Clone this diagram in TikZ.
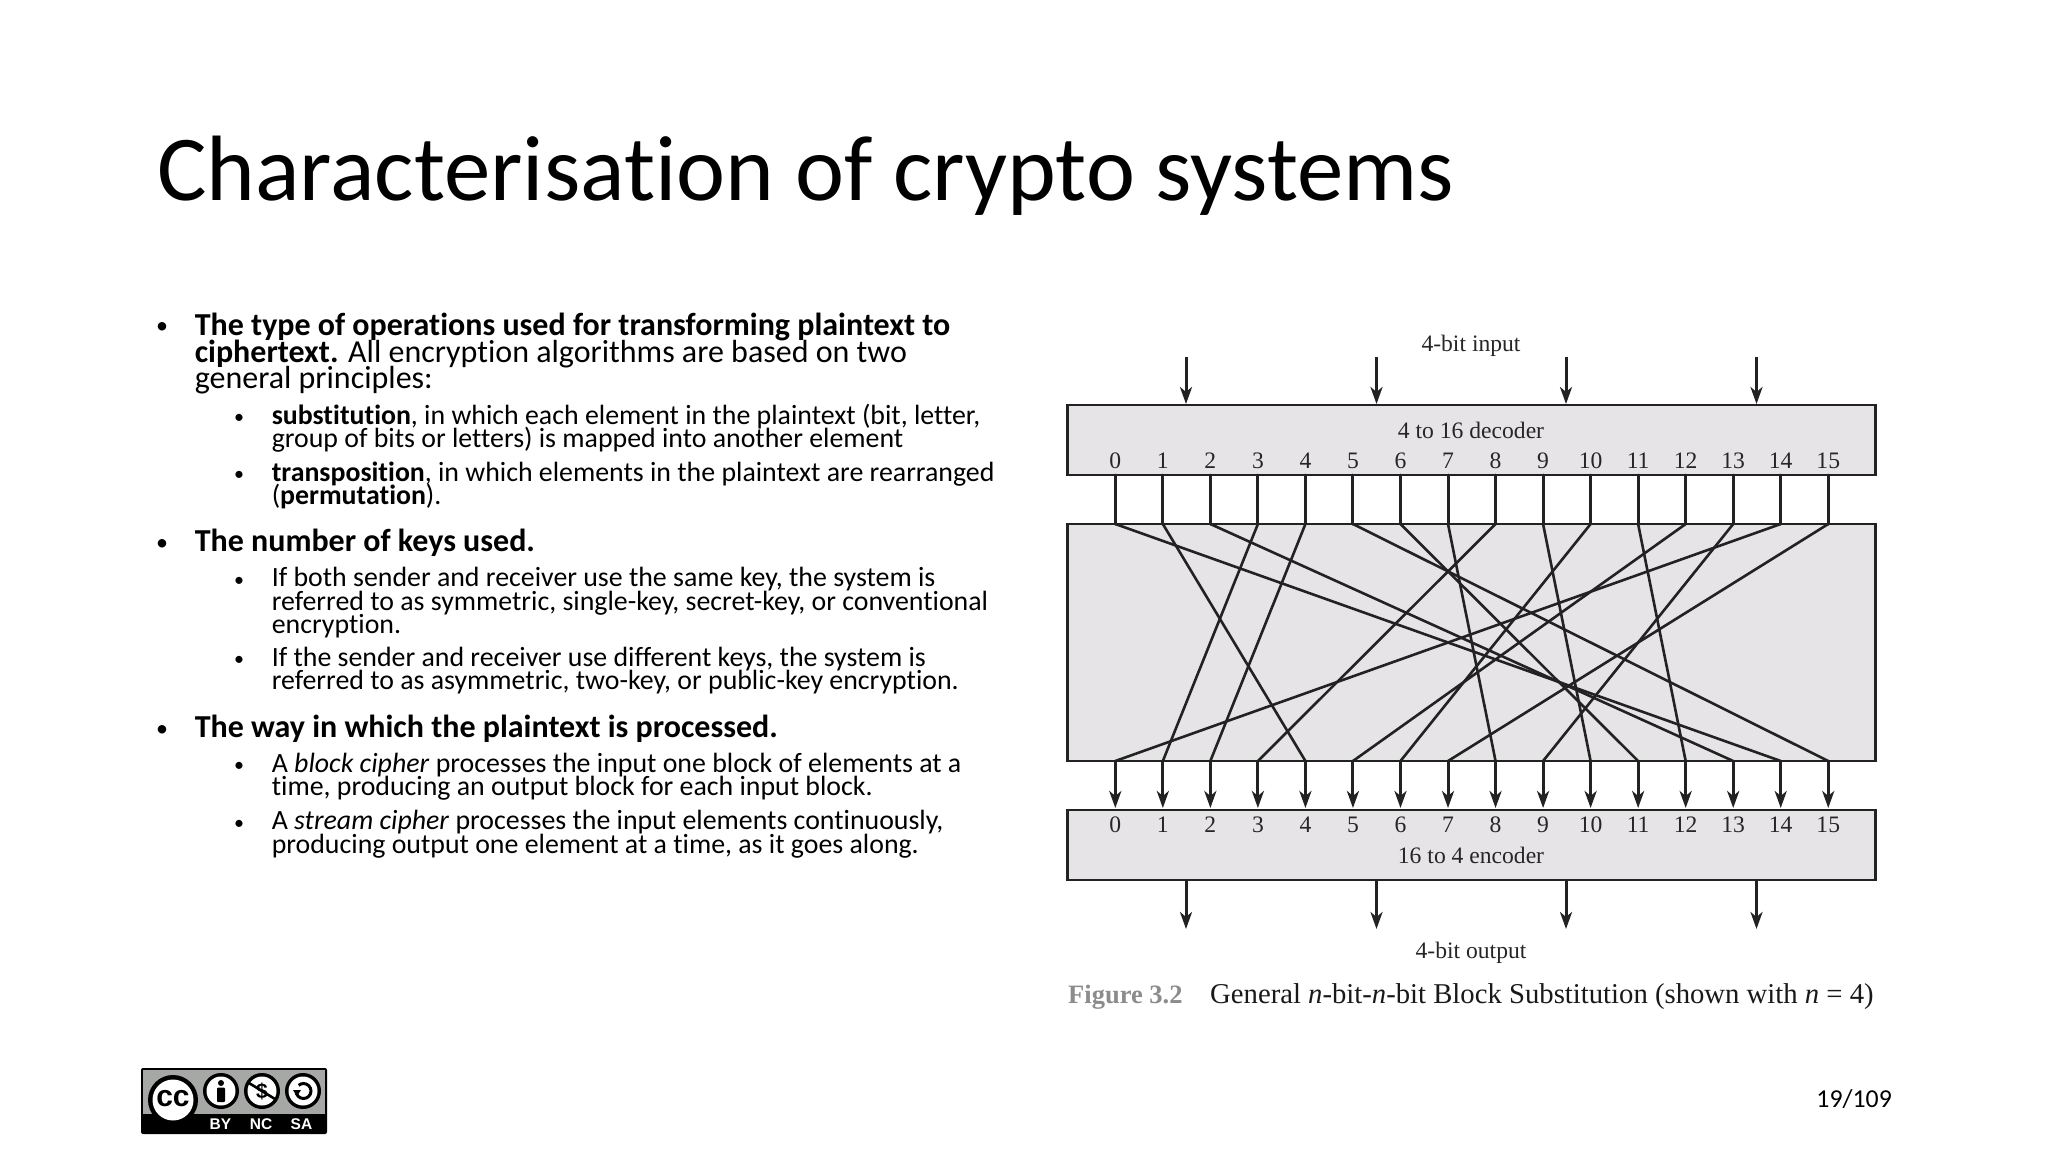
\documentclass[tikz,border=0pt]{standalone}
\usepackage{fontspec}
\setmainfont[RawFeature={-liga;-clig;-dlig}]{Carlito}
\newfontfamily\figfont{Liberation Serif}
\newfontfamily\badgefont{Liberation Sans}
\usetikzlibrary{arrows.meta}
\definecolor{boxgray}{HTML}{E6E4E7}
\definecolor{wiredark}{HTML}{222222}
\definecolor{figgray}{HTML}{8C8C8C}
\definecolor{badgegray}{HTML}{A6A8A5}
\newcommand{\fsize}[1]{\fontsize{#1}{#1}\selectfont}

\begin{document}
\begin{tikzpicture}[x=1pt,y=-1pt,
    every node/.style={inner sep=0pt},
    title/.style={anchor=base west,font=\fsize{92.85}},
    lineone/.style={anchor=base west,font=\fsize{32}},
    linetwo/.style={anchor=base west,font=\fsize{27.85}},
    blockbox/.style={draw=wiredark,line width=2.4pt,fill=boxgray,minimum width=808pt},
    figtext/.style={font=\figfont\fsize{23.6},text=black!85},
    wire/.style={draw=wiredark,line width=2.6pt},
    straightwire/.style={draw=wiredark,line width=3pt},
    arrowwire/.style={straightwire,-{Stealth[length=17pt,width=12pt,inset=5pt]}}]
      \path[use as bounding box,fill=white] (0,0) rectangle (2048,1152);

      \node[title] (head) at (157,200) {Characterisation of crypto systems};

      % left column
      \foreach \name/\y in {ba/333,bb/550,bc/736}
        \node[anchor=base,font=\fsize{24}] (\name) at (162,\y) {•};
      \foreach \name/\y in {sa/423,sb/480,sc/586,sd/665.5,se/771,sf/829}
        \node[anchor=base,font=\fsize{20}] (\name) at (239,\y) {•};
      \node[lineone] (la) at (194.6,335) {\textbf{The type of operations used for transforming plaintext to}};
      \node[lineone] (lb) at (194.6,362) {\textbf{ciphertext.} All encryption algorithms are based on two};
      \node[lineone] (lc) at (194.6,388.5) {general principles:};
      \node[linetwo] (ld) at (271.6,424) {\textbf{substitution}, in which each element in the plaintext (bit, letter,};
      \node[linetwo] (le) at (271.6,447.5) {group of bits or letters) is mapped into another element};
      \node[linetwo] (lf) at (271.6,481) {\textbf{transposition}, in which elements in the plaintext are rearranged};
      \node[linetwo] (lg) at (271.6,504.5) {(\textbf{permutation}).};
      \node[lineone] (lh) at (194.6,551) {\textbf{The number of keys used.}};
      \node[linetwo] (li) at (271.6,586.5) {If both sender and receiver use the same key, the system is};
      \node[linetwo] (lj) at (271.6,610) {referred to as symmetric, single-key, secret-key, or conventional};
      \node[linetwo] (lk) at (271.6,633.5) {encryption.};
      \node[linetwo] (ll) at (271.6,666) {If the sender and receiver use different keys, the system is};
      \node[linetwo] (lm) at (271.6,689.5) {referred to as asymmetric, two-key, or public-key encryption.};
      \node[lineone] (ln) at (194.6,737) {\textbf{The way in which the plaintext is processed.}};
      \node[linetwo] (lo) at (271.6,772) {A \textit{block cipher} processes the input one block of elements at a};
      \node[linetwo] (lp) at (271.6,795.5) {time, producing an output block for each input block.};
      \node[linetwo] (lq) at (271.6,829.5) {A \textit{stream cipher} processes the input elements continuously,};
      \node[linetwo] (lr) at (271.6,853) {producing output one element at a time, as it goes along.};

      % blocks
      \node[blockbox,minimum height=70pt] (decoder) at (1471.5,440) {};
      \node[blockbox,minimum height=237pt] (mixer) at (1471.5,642.5) {};
      \node[blockbox,minimum height=70pt] (encoder) at (1471.5,845) {};

      \node[figtext] (intext) at (1471,346) {4-bit input};
      \node[figtext] (dectext) at (1471,430) {4 to 16 decoder};
      \node[figtext] (enctext) at (1471,855) {16 to 4 encoder};
      \node[figtext] (outtext) at (1471,953) {4-bit output};
      \node[anchor=base west,font=\figfont\fsize{26.5}\bfseries,text=figgray] (figno) at (1068,1003) {Figure 3.2};
      \node[anchor=base west,font=\figfont\fsize{28.7},text=black!90] (figcap) at (1210,1003)
        {General \textit{n}-bit-\textit{n}-bit Block Substitution (shown with \textit{n} = 4)};

      % sixteen ports on each side
      \foreach \i in {0,...,15} {
        \pgfmathsetmacro{\xpos}{1115.3+47.53*\i}
        \node[figtext] (dnum\i) at (\xpos,461) {\i};
        \node[figtext] (enum\i) at (\xpos,825) {\i};
        \coordinate (dout\i) at (\xpos,475);
        \coordinate (mtop\i) at (\xpos,524);
        \coordinate (mbot\i) at (\xpos,761);
        \coordinate (ein\i) at (\xpos,808);
        \draw[straightwire,line cap=round] (dout\i) -- (mtop\i);
        \draw[arrowwire] (mbot\i) -- (ein\i);
      }

      \foreach \i/\j in {0/14,1/4,2/13,3/1,4/2,5/15,6/11,7/8,8/3,9/10,10/6,11/12,12/5,13/9,14/0,15/7}
        \draw[wire] (mtop\i) -- (mbot\j);

      % four input and output bits
      \foreach \n/\xpos in {1/1186,2/1376.5,3/1566,4/1756.5} {
        \coordinate (ia\n) at (\xpos,357);
        \coordinate (ib\n) at (\xpos,404);
        \coordinate (oa\n) at (\xpos,880);
        \coordinate (ob\n) at (\xpos,929);
        \draw[arrowwire] (ia\n) -- (ib\n);
        \draw[arrowwire] (oa\n) -- (ob\n);
      }

      % licence badge
      \fill[black,rounded corners=2pt] (141,1068) rectangle (327,1134);
      \fill[badgegray] (143,1070) rectangle (325,1114);
      \fill[badgegray] (173,1100) circle (29);
      \fill[black] (143,1114) rectangle (325,1132);
      \fill[black] (173,1100) circle (25);
      \fill[white] (173,1100) circle (20.5);
      \node[font=\badgefont\bfseries\fsize{30}] (ccmark) at (173,1098.5) {cc};
      \foreach \xpos in {221,262,303} {
        \fill[black] (\xpos,1091) circle (18);
        \fill[white] (\xpos,1091) circle (14.5);
      }
      \fill[black] (221,1083) circle (3);
      \fill[black,rounded corners=1pt] (217,1087.5) rectangle (225,1102);
      \node[font=\badgefont\bfseries\fsize{21}] (dollar) at (262,1091) {\$};
      \draw[black,line width=2.6pt] (249,1083) -- (275,1099);
      \draw[black,line width=3pt] (296,1091) arc (180:-130:7.5);
      \fill[white] (291,1086) rectangle (298,1090);
      \fill[black] (293,1090) -- (301,1090) -- (297,1096) -- cycle;
      \node[font=\badgefont\bfseries\fsize{15.5},text=white] (bytext) at (220.5,1124) {BY};
      \node[font=\badgefont\bfseries\fsize{15.5},text=white] (nctext) at (261,1124) {NC};
      \node[font=\badgefont\bfseries\fsize{15.5},text=white] (satext) at (301.5,1124) {SA};

      \node[anchor=base east,font=\fsize{25.8}] (pageno) at (1892,1107) {19/109};
\end{tikzpicture}
\end{document}
